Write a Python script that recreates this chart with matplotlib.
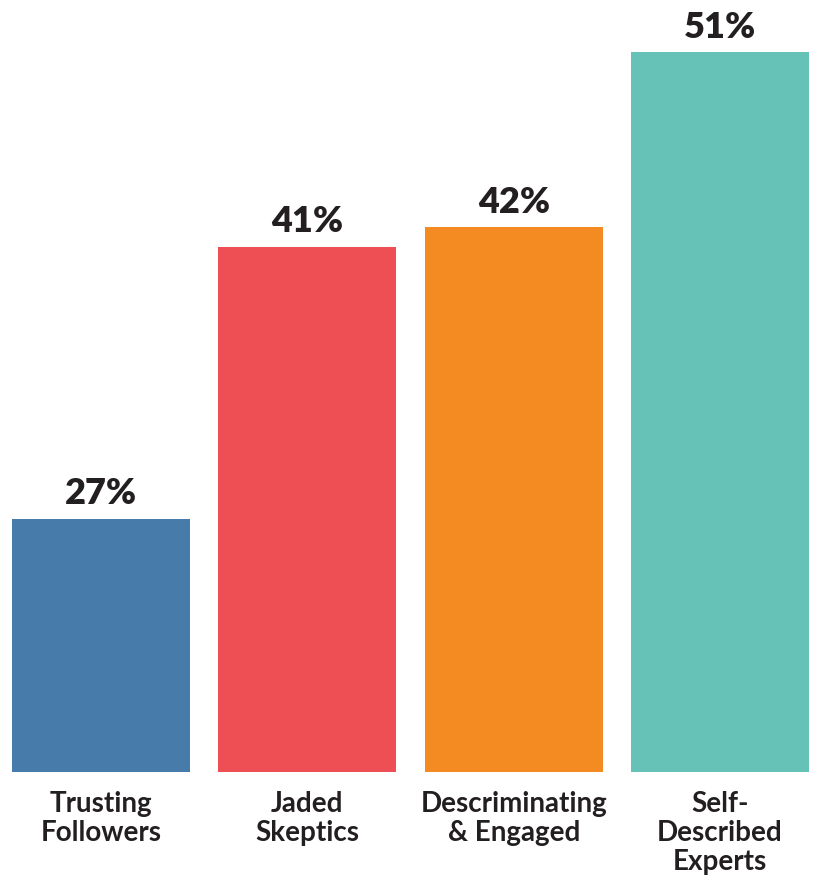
import matplotlib.pyplot as plt

categories = ['Trusting\nFollowers', 'Jaded\nSkeptics',
              'Descriminating\n& Engaged', 'Self-\nDescribed\nExperts']
values = [27, 41, 42, 51]
colors = ['#467BAA', '#EE4F55', '#F38A22', '#66C1B6']

plt.rcParams['font.family'] = ['Lato', 'DejaVu Sans']

fig = plt.figure(figsize=(8.15, 8.78), dpi=100)
ax = fig.add_axes((0, 0.1196, 1, 0.8804))

x = list(range(len(values)))
ax.bar(x, values, width=0.863, color=colors)

# value axis starts well above zero
ybase = 14.0
ax.set_xlim(-0.49, 3.46)
ax.set_ylim(ybase, 53.75)

for xi, v in zip(x, values):
    ax.annotate(f'{v}%', (xi, v), xytext=(0, 7), textcoords='offset points',
                ha='center', va='bottom', fontsize=26, fontweight='heavy',
                color='#231F20')

for xi, label in zip(x, categories):
    ax.annotate(label, (xi, ybase), xytext=(0, -13), textcoords='offset points',
                ha='center', va='top', fontsize=20, fontweight='bold',
                color='#231F20', linespacing=1.13)

ax.axis('off')

fig.savefig('out.png', dpi=100)
